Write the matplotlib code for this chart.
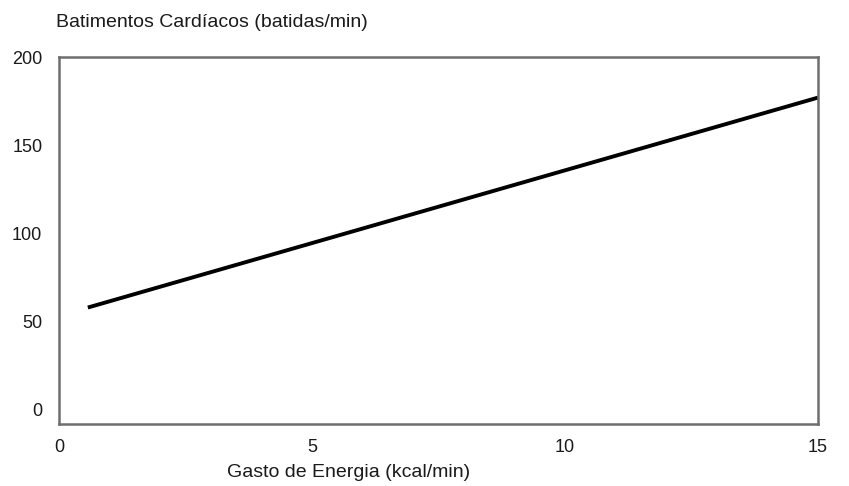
import matplotlib
matplotlib.use('Agg')
import matplotlib.pyplot as plt

plt.rcParams['font.family'] = ['Liberation Sans', 'DejaVu Sans']

# energy expenditure (kcal/min) vs heart rate (beats/min)
gasto_energia = [0.57, 15.0]
batimentos = [58, 177]

x_ticks = [0, 5, 10, 15]
y_ticks = [0, 50, 100, 150, 200]

fig = plt.figure(figsize=(8.49, 4.86), dpi=100)
ax = fig.add_axes([0.0695, 0.1276, 0.894, 0.7551])

ax.plot(gasto_energia, batimentos, color='black', linewidth=2.8, solid_capstyle='butt')

ax.set_xlim(0, 15)
ax.set_ylim(-8, 199)
ax.set_xticks(x_ticks)
ax.set_yticks(y_ticks)
ax.tick_params(length=0, labelsize=13, colors='#1a1a1a')
ax.tick_params(axis='x', pad=11)
ax.tick_params(axis='y', pad=12)

for side in ['left', 'right', 'top', 'bottom']:
    ax.spines[side].set_color('#6e6e6e')
    ax.spines[side].set_linewidth(1.8)

fig.text(0.066, 0.953, 'Batimentos Cardíacos (batidas/min)', fontsize=14,
         color='#1a1a1a', va='center', ha='left')
fig.text(0.267, 0.027, 'Gasto de Energia (kcal/min)', fontsize=14,
         color='#1a1a1a', va='center', ha='left')

plt.savefig('out.png', dpi=100)
plt.close()
